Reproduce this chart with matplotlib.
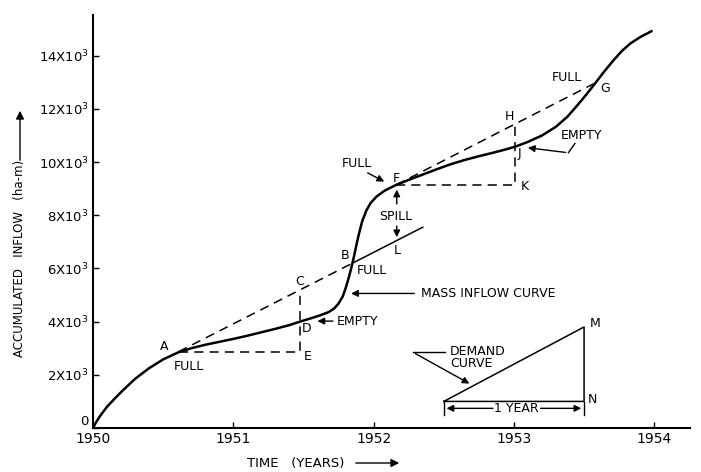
"""
Mass inflow curve with demand lines (reservoir capacity schematic).
"""

import matplotlib
matplotlib.use('Agg')
import matplotlib.pyplot as plt

# --- Data (accumulated inflow in 10^3 ha-m) ---
years = [1950.00, 1950.02, 1950.05, 1950.10, 1950.15, 1950.20, 1950.30,
         1950.40, 1950.50, 1950.61, 1950.70, 1950.80, 1950.90, 1951.00,
         1951.10, 1951.20, 1951.30, 1951.40, 1951.475, 1951.55, 1951.62,
         1951.68, 1951.72, 1951.75, 1951.78, 1951.80, 1951.82, 1951.84,
         1951.86, 1951.88, 1951.90, 1951.92, 1951.95, 1951.98, 1952.02,
         1952.08, 1952.16, 1952.25, 1952.35, 1952.45, 1952.55, 1952.65,
         1952.75, 1952.85, 1952.93, 1953.01, 1953.10, 1953.20, 1953.30,
         1953.38, 1953.45, 1953.51, 1953.57, 1953.64, 1953.71, 1953.77,
         1953.83, 1953.90, 1953.98]
inflow = [0.0, 0.2, 0.45, 0.8, 1.08, 1.35, 1.85,
          2.25, 2.58, 2.85, 3.0, 3.13, 3.24, 3.35,
          3.47, 3.6, 3.73, 3.87, 4.0, 4.12, 4.24,
          4.36, 4.5, 4.68, 4.95, 5.25, 5.6, 6.0,
          6.45, 6.95, 7.4, 7.8, 8.2, 8.47, 8.7,
          8.93, 9.14, 9.33, 9.53, 9.73, 9.92, 10.08,
          10.22, 10.35, 10.46, 10.58, 10.76, 11.0, 11.33,
          11.7, 12.12, 12.5, 12.9, 13.38, 13.83, 14.18,
          14.46, 14.7, 14.92]

# demand lines (tangents)
dem1_x = [1950.61, 1951.85]          # A -> B (dashed)
dem1_y = [2.87, 6.20]
dem1b_x = [1951.85, 1952.35]         # B -> L (solid)
dem1b_y = [6.20, 7.55]
dem2_x = [1952.16, 1953.57]          # F -> G (dashed)
dem2_y = [9.14, 12.95]

# construction lines
ace_x = [1950.61, 1951.475, 1951.475]   # A -> E -> C
ace_y = [2.87, 2.87, 5.19]
fkh_x = [1952.16, 1953.01, 1953.01]     # F -> K -> H
fkh_y = [9.14, 9.14, 11.44]

# demand triangle
tri_x = [1952.5, 1953.5, 1953.5, 1952.5]
tri_y = [1.0, 3.8, 1.0, 1.0]

yticks = [0, 2, 4, 6, 8, 10, 12, 14]
ytick_labels = ['0'] + [f'{v}X10$^3$' for v in yticks[1:]]
xticks = [1950, 1951, 1952, 1953, 1954]

FS = 9
fig = plt.figure(figsize=(7.01, 4.72), dpi=100)
ax = fig.add_axes([0.1327, 0.0932, 0.8516, 0.875])

ax.plot(years, inflow, color='black', lw=1.8, zorder=3,
        solid_joinstyle='round')

dash = dict(color='black', lw=1.1, ls=(0, (6, 4)))
ax.plot(dem1_x, dem1_y, **dash)
ax.plot(dem1b_x, dem1b_y, color='black', lw=1.1)
ax.plot(dem2_x, dem2_y, **dash)
ax.plot(ace_x, ace_y, **dash)
ax.plot(fkh_x, fkh_y, **dash)
ax.plot(tri_x, tri_y, color='black', lw=1.1)

# point labels
pts = [('A', 1950.51, 3.06), ('C', 1951.475, 5.5), ('D', 1951.52, 3.75),
       ('E', 1951.53, 2.68), ('B', 1951.80, 6.5), ('L', 1952.165, 6.69),
       ('F', 1952.16, 9.39), ('H', 1952.97, 11.7), ('J', 1953.04, 10.33),
       ('K', 1953.08, 9.07), ('G', 1953.65, 12.77), ('M', 1953.58, 3.94),
       ('N', 1953.56, 1.08)]
for s, x, y in pts:
    ax.text(x, y, s, fontsize=FS, ha='center', va='center')

ax.text(1950.68, 2.33, 'FULL', fontsize=FS, ha='center', va='center')
ax.text(1951.88, 5.94, 'FULL', fontsize=FS, ha='left', va='center')
ax.text(1951.88, 9.95, 'FULL', fontsize=FS, ha='center', va='center')
ax.text(1953.376, 13.19, 'FULL', fontsize=FS, ha='center', va='center')
ax.text(1952.16, 7.94, 'SPILL', fontsize=FS, ha='center', va='center')

arr = dict(arrowstyle='-|>', color='black', lw=1.0, mutation_scale=10)

# EMPTY at D
ax.text(1951.74, 4.0, 'EMPTY', fontsize=FS, ha='left', va='center')
ax.annotate('', xy=(1951.58, 4.02), xytext=(1951.73, 4.02), arrowprops=arr)

# mass inflow curve label
ax.text(1952.34, 5.06, 'MASS INFLOW CURVE', fontsize=FS, ha='left', va='center')
ax.annotate('', xy=(1951.82, 5.06), xytext=(1952.31, 5.06), arrowprops=arr)

# spill arrows
ax.annotate('', xy=(1952.165, 9.07), xytext=(1952.165, 8.32), arrowprops=arr)
ax.annotate('', xy=(1952.165, 7.07), xytext=(1952.165, 7.7), arrowprops=arr)

# FULL at F
ax.annotate('', xy=(1952.093, 9.22), xytext=(1951.94, 9.64), arrowprops=arr)

# EMPTY at J
ax.text(1953.48, 11.01, 'EMPTY', fontsize=FS, ha='center', va='center')
ax.plot([1953.435, 1953.388], [10.70, 10.35], color='black', lw=1.0)
ax.annotate('', xy=(1953.08, 10.55), xytext=(1953.388, 10.35), arrowprops=arr)

# demand curve label
ax.text(1952.545, 2.67, 'DEMAND\nCURVE', fontsize=FS, ha='left', va='center',
        linespacing=0.9)
ax.plot([1952.51, 1952.28], [2.85, 2.85], color='black', lw=1.0)
ax.annotate('', xy=(1952.70, 1.62), xytext=(1952.28, 2.85), arrowprops=arr)

# 1 year dimension
ax.text(1953.02, 0.74, '1 YEAR', fontsize=FS, ha='center', va='center')
ax.annotate('', xy=(1952.5, 0.74), xytext=(1952.87, 0.74), arrowprops=arr)
ax.annotate('', xy=(1953.5, 0.74), xytext=(1953.17, 0.74), arrowprops=arr)
for xe in (1952.5, 1953.5):
    ax.plot([xe, xe], [0.5, 0.98], color='black', lw=1.0)

# axes
ax.set_xlim(1950, 1954.255)
ax.set_ylim(0, 15.53)
ax.set_xticks(xticks)
ax.set_xticklabels([str(x) for x in xticks], fontsize=10)
ax.set_yticks(yticks)
ax.set_yticklabels(ytick_labels, fontsize=9.5)
ax.get_yticklabels()[0].set_va('bottom')
ax.tick_params(direction='in', length=4, width=1, pad=3)
for side in ('top', 'right'):
    ax.spines[side].set_visible(False)
for side in ('left', 'bottom'):
    ax.spines[side].set_linewidth(1.5)

# axis labels with arrows
fig.text(20 / 701, 1 - 258 / 472, 'ACCUMULATED   INFLOW   (ha-m)', rotation=90,
         fontsize=8.5, ha='center', va='center')
fig.patches.append(matplotlib.patches.FancyArrowPatch(
    (20 / 701, 1 - 163 / 472), (20 / 701, 1 - 108 / 472),
    transform=fig.transFigure, arrowstyle='-|>', mutation_scale=12,
    color='black', lw=1.0))
fig.text(296 / 701, 1 - 463 / 472, 'TIME   (YEARS)', fontsize=9.5,
         ha='center', va='center')
fig.patches.append(matplotlib.patches.FancyArrowPatch(
    (353 / 701, 1 - 463 / 472), (402 / 701, 1 - 463 / 472),
    transform=fig.transFigure, arrowstyle='-|>', mutation_scale=12,
    color='black', lw=1.0))

fig.savefig('out.png', dpi=100)
